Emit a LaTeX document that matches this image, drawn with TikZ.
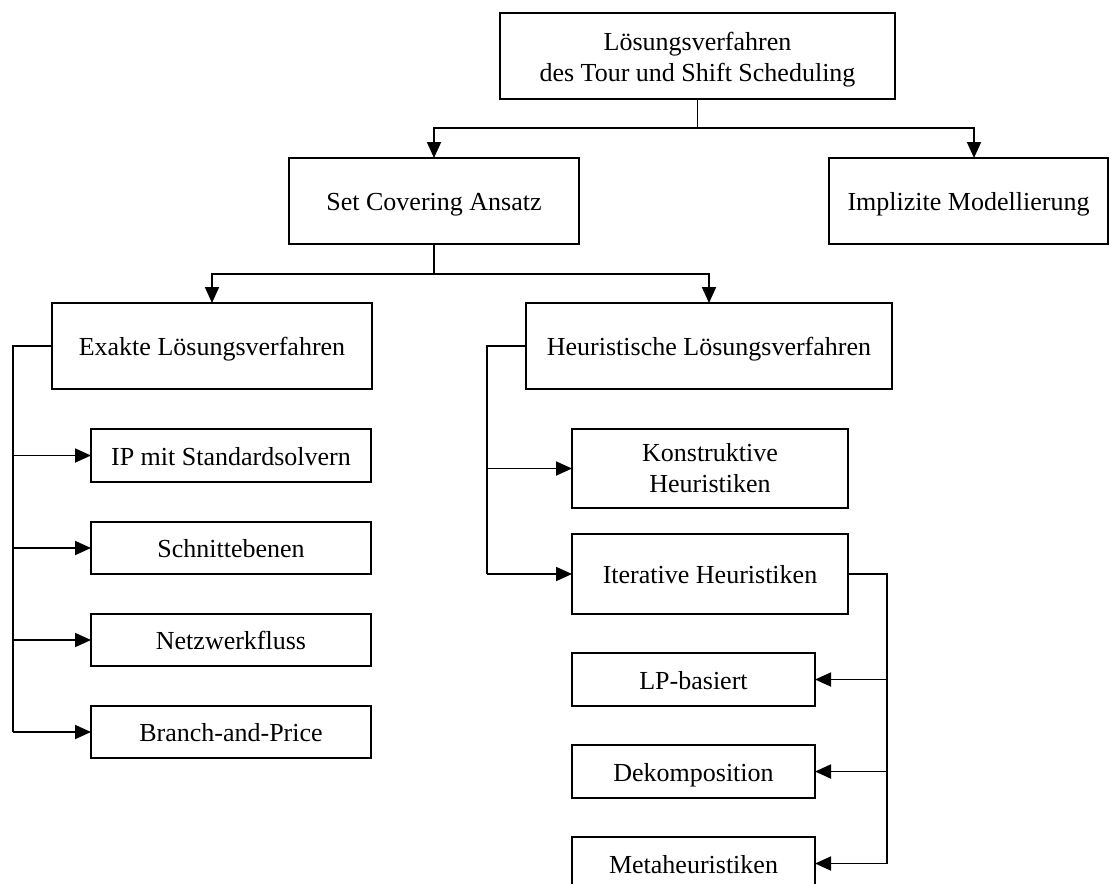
\documentclass[tikz,border=0pt]{standalone}
\usepackage{fontspec}
\setmainfont{Liberation Serif}
\usetikzlibrary{arrows.meta}
\begin{document}
\begin{tikzpicture}[x=1pt,y=-1pt,
  box/.style={draw, line width=1.7pt, rectangle, inner sep=0pt, outer sep=0pt, align=center,
    font=\fontsize{26}{31}\selectfont},
  one/.style={box, text height=20pt, text depth=1pt},
  conn/.style={line width=1.8pt},
  arr/.style={line width=1.8pt, -{Triangle[length=16pt,width=14pt]}}]
\useasboundingbox (0,0) rectangle (1110,883);
\clip (0,0) rectangle (1110,883);
\node[box, minimum width=395pt, minimum height=86pt] (top) at (697.5,56) {\raisebox{-10pt}[0pt][0pt]{\begin{tabular}{@{}c@{}}Lösungsverfahren\\des Tour und Shift Scheduling\end{tabular}}};
\node[one, minimum width=290pt, minimum height=86pt] (sc) at (434,201) {Set Covering Ansatz};
\node[one, minimum width=279pt, minimum height=86pt] (imp) at (968.5,201) {Implizite Modellierung};
\node[one, minimum width=320pt, minimum height=86pt] (ex) at (212,346) {Exakte Lösungsverfahren};
\node[one, minimum width=366pt, minimum height=86pt] (heu) at (709,346) {Heuristische Lösungsverfahren};
\node[one, minimum width=280pt, minimum height=53pt] (ip) at (231,455.5) {IP mit Standardsolvern};
\node[one, minimum width=280pt, minimum height=52pt] (sn) at (231,548) {Schnittebenen};
\node[one, minimum width=280pt, minimum height=52pt] (nf) at (231,640) {Netzwerkfluss};
\node[one, minimum width=280pt, minimum height=52pt] (bp) at (231,732) {Branch-and-Price};
\node[box, minimum width=276pt, minimum height=79pt] (ko) at (710,468.5) {Konstruktive\\Heuristiken};
\node[one, minimum width=276pt, minimum height=80pt] (it) at (710,574) {Iterative Heuristiken};
\node[one, minimum width=243pt, minimum height=53pt] (lp) at (693.5,679.5) {LP-basiert};
\node[one, minimum width=243pt, minimum height=53pt] (dk) at (693.5,771.5) {Dekomposition};
\node[one, minimum width=243pt, minimum height=53pt] (mh) at (693.5,863.5) {Metaheuristiken};
% top level
\coordinate (j1) at (697.5,128);
\draw[conn] (top.south) -- (j1);
\draw[arr] (j1) -| (sc.north);
\draw[arr] (j1) -| ([xshift=5.5pt]imp.north);
% set covering
\coordinate (j2) at (434,274);
\draw[conn] (sc.south) -- (j2);
\draw[arr] (j2) -| (ex.north);
\draw[arr] (j2) -| (heu.north);
% exakte
\coordinate (l1) at (13,346);
\draw[conn] (ex.west) -- (l1) -- (l1 |- bp.west);
\draw[arr] (l1 |- ip.west) -- (ip.west);
\draw[arr] (l1 |- sn.west) -- (sn.west);
\draw[arr] (l1 |- nf.west) -- (nf.west);
\draw[arr] (l1 |- bp.west) -- (bp.west);
% heuristische
\coordinate (h1) at (487,346);
\draw[conn] (heu.west) -- (h1) -- (h1 |- it.west);
\draw[arr] (h1 |- ko.west) -- (ko.west);
\draw[arr] (h1 |- it.west) -- (it.west);
% iterative
\coordinate (r1) at (887,574);
\draw[conn] (it.east) -- (r1) -- (r1 |- mh.east);
\draw[arr] (r1 |- lp.east) -- (lp.east);
\draw[arr] (r1 |- dk.east) -- (dk.east);
\draw[arr] (r1 |- mh.east) -- (mh.east);
\end{tikzpicture}
\end{document}
